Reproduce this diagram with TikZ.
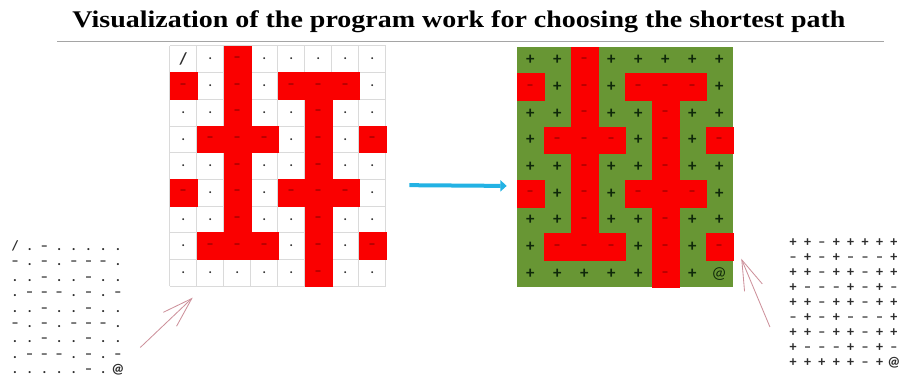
\documentclass[tikz,border=0pt]{standalone}
\usepackage{fontspec}
\usepackage{graphicx}
\usepackage{tikz}
\usetikzlibrary{arrows.meta, positioning, calc, matrix}
\setmainfont{Carlito}
\newfontfamily\titlefont{Liberation Serif}
\definecolor{wallred}{RGB}{250,0,0}
\definecolor{walldash}{RGB}{150,0,0}
\definecolor{pathgreen}{RGB}{104,150,52}
\definecolor{plusdark}{RGB}{15,40,10}
\definecolor{gridgray}{RGB}{218,218,218}
\definecolor{rulegray}{RGB}{165,165,165}
\definecolor{flowcyan}{RGB}{35,178,228}
\definecolor{notepink}{RGB}{205,145,155}
\definecolor{chardark}{RGB}{45,45,45}
\def\px{0.025cm}
\def\cw{27}
\def\ch{26.7}
% 1 = wall, 0 = free cell
\def\mazerows{{0,0,1,0,0,0,0,0},{1,0,1,0,1,1,1,0},{0,0,1,0,0,1,0,0},
  {0,1,1,1,0,1,0,1},{0,0,1,0,0,1,0,0},{1,0,1,0,1,1,1,0},{0,0,1,0,0,1,0,0},
  {0,1,1,1,0,1,0,1},{0,0,0,0,0,1,0,0}}
\tikzset{
  mazeframe/.style={rectangle, inner sep=0pt,
    minimum width=8*\cw*\px, minimum height=9*\ch*\px},
  gridline/.style={draw=gridgray, line width=0.4pt},
  wallcell/.style={fill=wallred, draw=wallred, line width=0.3pt},
  dotmark/.style={font=\small\bfseries, color=chardark, inner sep=0pt},
  dashmark/.style={font=\normalsize\bfseries, color=walldash, inner sep=0pt},
  plusmark/.style={font=\large\bfseries, color=plusdark, inner sep=0pt},
  textcell/.style={font=\normalsize\bfseries, color=chardark, inner sep=0pt,
    text height=6pt, text depth=1pt, anchor=base},
  flowarrow/.style={-{Triangle[length=1.6mm, width=2.8mm]}, line width=1mm, color=flowcyan},
  notearrow/.style={-{Straight Barb[length=7.5mm, width=4.8mm]}, line width=0.6pt, color=notepink}
}
\begin{document}
\begin{tikzpicture}[x=\px, y=-\px]
  \useasboundingbox (0,0) rectangle (902,379);

  % Title and rule
  \node[anchor=base, inner sep=0pt, font=\titlefont\bfseries\fontsize{17}{20}\selectfont] (title) at (459,28)
    {\scalebox{1.17}[1]{Visualization of the program work for choosing the shortest path}};
  \draw[rulegray, line width=1.3pt] (57,41.5) -- (884,41.5);

  % Left maze (start map)
  \node[mazeframe] (maze) at (278,166.2) {};
  \coordinate (m0) at (maze.north west);
  \foreach \c in {0,...,8} \draw[gridline] ($(m0)+(\c*\cw,0)$) -- ++(0,9*\ch);
  \foreach \r in {0,...,9} \draw[gridline] ($(m0)+(0,\r*\ch)$) -- ++(8*\cw,0);
  \foreach \row [count=\r from 0] in \mazerows
    \foreach \v [count=\c from 0] in \row {
      \ifnum\v=1
        \fill[wallcell] ($(m0)+(\c*\cw,\r*\ch)$) rectangle ++(\cw,\ch);
        \node[dashmark] at ($(m0)+(\c*\cw+\cw/2,\r*\ch+\ch/2)$) {--};
      \else\ifnum\numexpr\r+\c\relax>0
        \node[dotmark] at ($(m0)+(\c*\cw+\cw/2,\r*\ch+\ch/2)$) {.};
      \fi\fi
    }
  \node[dotmark, font=\large\bfseries] (startmark) at ($(m0)+(\cw/2,\ch/2)$) {/};

  % Right maze (found path)
  \node[mazeframe, fill=pathgreen] (pathmap) at (625,167.2) {};
  \coordinate (p0) at (pathmap.north west);
  \foreach \row [count=\r from 0] in \mazerows
    \foreach \v [count=\c from 0] in \row {
      \ifnum\v=1
        \fill[wallcell] ($(p0)+(\c*\cw,\r*\ch)$) rectangle ++(\cw,\ch);
        \node[dashmark] at ($(p0)+(\c*\cw+\cw/2,\r*\ch+\ch/2)$) {--};
      \else\ifnum\numexpr\r*10+\c\relax<87
        \node[plusmark] at ($(p0)+(\c*\cw+\cw/2,\r*\ch+\ch/2)$) {+};
      \fi\fi
    }
  \node[plusmark, font=\large] (goalmark) at ($(p0)+(7*\cw+\cw/2,8*\ch+\ch/2)$) {@};

  % Text maps
  \matrix (srcmap) [matrix of nodes, column sep=0pt, row sep=0pt,
    nodes={textcell, minimum width=14.7*\px, minimum height=15.4*\px}] at (66.5,308.5) {
    / & . & -- & . & . & . & . & . \\
    -- & . & -- & . & -- & -- & -- & . \\
    . & . & -- & . & . & -- & . & . \\
    . & -- & -- & -- & . & -- & . & -- \\
    . & . & -- & . & . & -- & . & . \\
    -- & . & -- & . & -- & -- & -- & . \\
    . & . & -- & . & . & -- & . & . \\
    . & -- & -- & -- & . & -- & . & -- \\
    . & . & . & . & . & -- & . & @ \\
  };
  \matrix (outmap) [matrix of nodes, column sep=0pt, row sep=0pt,
    nodes={textcell, minimum width=14.4*\px, minimum height=15*\px}] at (843.5,303) {
    + & + & -- & + & + & + & + & + \\
    -- & + & -- & + & -- & -- & -- & + \\
    + & + & -- & + & + & -- & + & + \\
    + & -- & -- & -- & + & -- & + & -- \\
    + & + & -- & + & + & -- & + & + \\
    -- & + & -- & + & -- & -- & -- & + \\
    + & + & -- & + & + & -- & + & + \\
    + & -- & -- & -- & + & -- & + & -- \\
    + & + & + & + & + & -- & + & @ \\
  };

  % Arrows
  \draw[flowarrow, shorten <=0.575cm, shorten >=0.25cm]
    ([yshift=-0.47cm]maze.east) -- ([yshift=-0.47cm]pathmap.west);
  \coordinate (srctail) at ($(srcmap.east)+(10,39)$);
  \coordinate (mazetip) at ($(maze.south west)+(23,11)$);
  \draw[notearrow] (srctail) -- (mazetip);
  \coordinate (outtail) at ($(outmap.west)+(-11,24)$);
  \coordinate (pathtip) at ($(pathmap.south east)+(8,-29)$);
  \draw[notearrow] (outtail) -- (pathtip);
\end{tikzpicture}
\end{document}
